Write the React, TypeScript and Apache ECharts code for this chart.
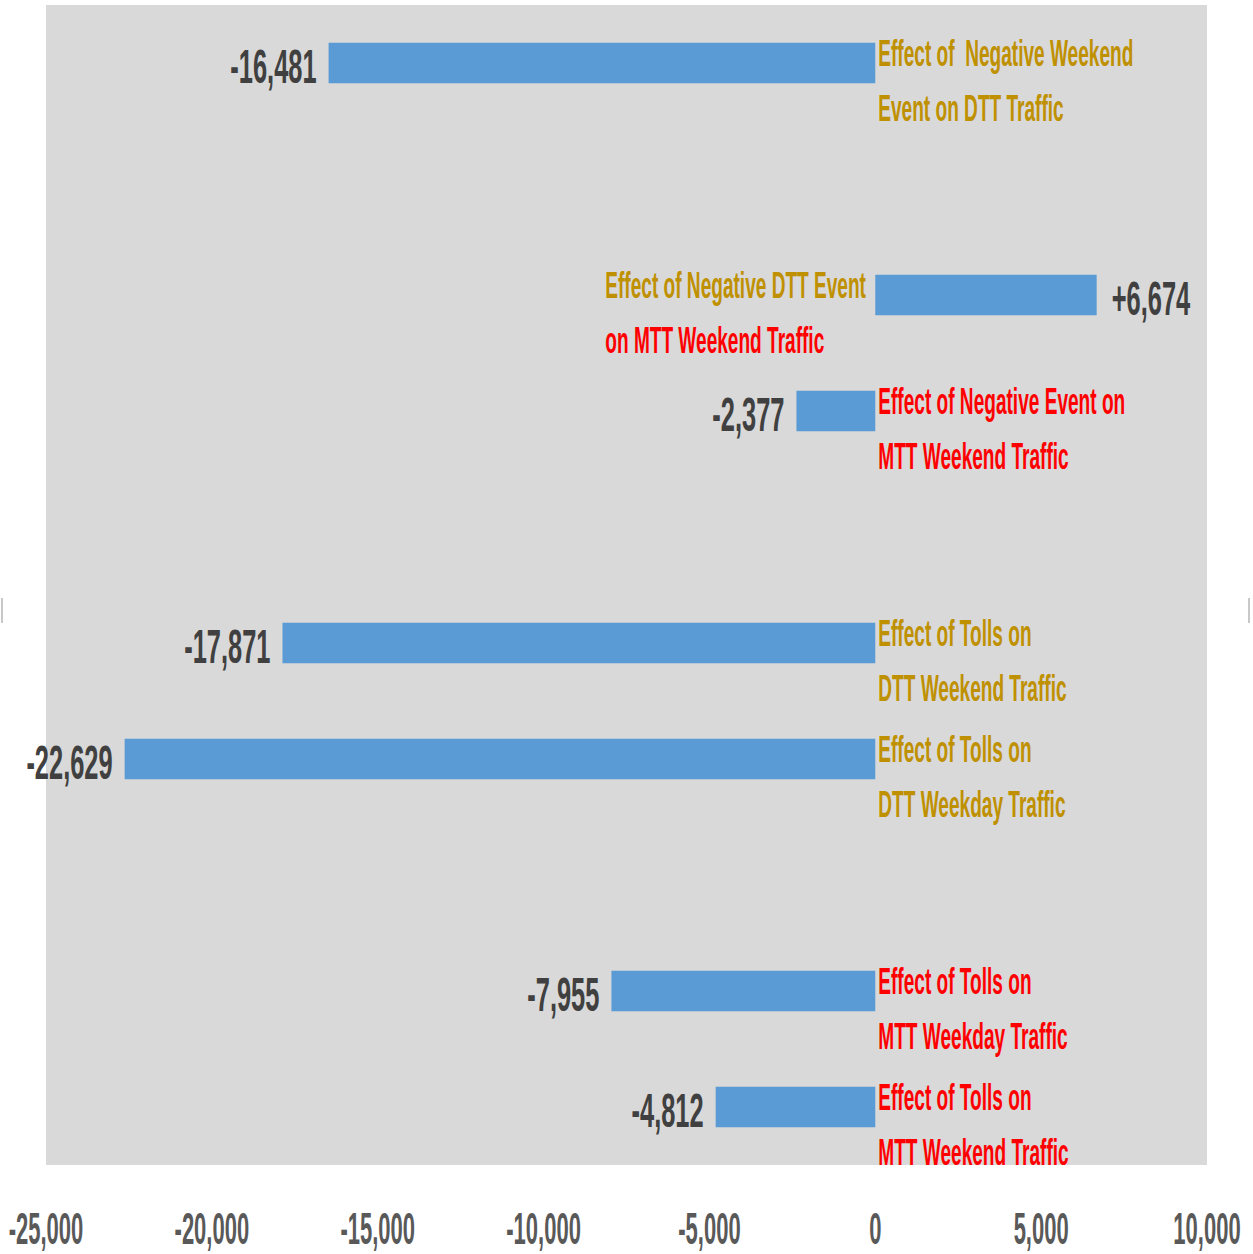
import React, { useEffect, useRef } from "react";
import * as echarts from "echarts";

// Category slots (blank slots are gaps in the chart)
const categories = [
  "Negative Weekend Event on DTT",
  "",
  "Negative DTT Event on MTT Weekend",
  "Negative Event on MTT Weekend",
  "",
  "Tolls on DTT Weekend",
  "Tolls on DTT Weekday",
  "",
  "Tolls on MTT Weekday",
  "Tolls on MTT Weekend",
];
const values: (number | null)[] = [-16481, null, 6674, -2377, null, -17871, -22629, null, -7955, -4812];

const noteLine1 = [
  "Effect of  Negative Weekend", "", "Effect of Negative DTT Event", "Effect of Negative Event on", "",
  "Effect of Tolls on", "Effect of Tolls on", "", "Effect of Tolls on", "Effect of Tolls on",
];
const noteLine2 = [
  "Event on DTT Traffic", "", "on MTT Weekend Traffic", "MTT Weekend Traffic", "",
  "DTT Weekend Traffic", "DTT Weekday Traffic", "", "MTT Weekday Traffic", "MTT Weekend Traffic",
];
const noteColor1 = ["gold", "", "gold", "red", "", "gold", "gold", "", "red", "red"];
const noteColor2 = ["gold", "", "red", "red", "", "gold", "gold", "", "red", "red"];
const noteSide = ["right", "", "left", "right", "", "right", "right", "", "right", "right"];

const xMin = -25000;
const xMax = 10000;
const xStep = 5000;
const xTickLabels = [-25000, -20000, -15000, -10000, -5000, 0, 5000, 10000];

const COLORS: Record<string, string> = { gold: "#BF9000", red: "#FF0000" };

const fmt = (v: number) => (v > 0 ? "+" : "") + v.toLocaleString("en-US");

export default function App() {
  const ref = useRef<HTMLDivElement>(null);
  useEffect(() => {
    if (!ref.current) return;
    const chart = echarts.init(ref.current, undefined, { renderer: "svg" });
    const labelData = values
      .map((v, i) => (v === null ? null : [v, i]))
      .filter((d) => d !== null);
    const noteData = noteLine1
      .map((t, i) => (t ? [0, i] : null))
      .filter((d) => d !== null);
    const lastCat = categories.length - 1;

    chart.setOption({
      animation: false,
      backgroundColor: "#FFFFFF",
      grid: {
        left: 46,
        right: 46,
        top: 5,
        bottom: 89,
        containLabel: false,
        outerBoundsMode: "none",
        show: true,
        backgroundColor: "#D9D9D9",
        borderWidth: 0,
      },
      xAxis: {
        type: "value",
        min: xMin,
        max: xMax,
        interval: xStep,
        axisLine: { show: false },
        axisTick: { show: false },
        splitLine: { show: false },
        axisLabel: { show: false },
      },
      yAxis: {
        type: "category",
        inverse: true,
        data: categories,
        axisLine: { show: false },
        axisTick: { show: false },
        axisLabel: { show: false },
        splitLine: { show: false },
      },
      series: [
        {
          type: "bar",
          data: values.map((v) => (v === null ? "-" : v)),
          barWidth: "35%",
          itemStyle: { color: "#5B9BD5" },
        },
        {
          // value labels
          type: "custom",
          silent: true,
          encode: { x: 0, y: 1 },
          data: labelData,
          z: 5,
          renderItem: (params: any, api: any) => {
            const v = api.value(0);
            const c = api.value(1);
            const p = api.coord([v, c]);
            const neg = v < 0;
            return {
              type: "text",
              x: p[0] + (neg ? -12 : 15),
              y: p[1] + 3,
              scaleX: 0.53,
              style: {
                text: fmt(v),
                fill: "#404040",
                fontSize: 48,
                fontWeight: "bold",
                fontFamily: "'Liberation Sans', Arial, sans-serif",
                align: neg ? "right" : "left",
                verticalAlign: "middle",
              },
            };
          },
        },
        {
          // annotations
          type: "custom",
          silent: true,
          encode: { x: 0, y: 1 },
          data: noteData,
          z: 5,
          renderItem: (params: any, api: any) => {
            const c = api.value(1);
            const p = api.coord([0, c]);
            const left = noteSide[c] === "left";
            const x0 = p[0] + (left ? -270 : 3);
            const mk = (text: string, color: string, dy: number) => ({
              type: "text",
              x: x0,
              y: p[1] + dy,
              scaleX: 0.53,
              style: {
                text,
                fill: COLORS[color],
                fontSize: 36,
                fontWeight: "bold",
                fontFamily: "'Liberation Sans', Arial, sans-serif",
                align: "left",
                verticalAlign: "middle",
              },
            });
            return {
              type: "group",
              children: [
                mk(noteLine1[c], noteColor1[c], -9),
                mk(noteLine2[c], noteColor2[c], 46),
              ],
            };
          },
        },
        {
          // x-axis tick labels
          type: "custom",
          silent: true,
          encode: { x: 0, y: 1 },
          data: xTickLabels.map((t) => [t, lastCat]),
          z: 5,
          renderItem: (params: any, api: any) => {
            const t = api.value(0);
            const p = api.coord([t, lastCat]);
            const cs = params.coordSys;
            return {
              type: "text",
              x: p[0],
              y: cs.y + cs.height + 64,
              scaleX: 0.5,
              style: {
                text: t.toLocaleString("en-US"),
                fill: "#595959",
                fontSize: 44,
                fontWeight: "bold",
                fontFamily: "'Liberation Sans', Arial, sans-serif",
                align: "center",
                verticalAlign: "middle",
              },
            };
          },
        },
      ],
      graphic: [
        { type: "line", shape: { x1: 2, y1: 598, x2: 2, y2: 623 }, style: { stroke: "#C8C8C8", lineWidth: 2 } },
        { type: "line", shape: { x1: 1249, y1: 598, x2: 1249, y2: 623 }, style: { stroke: "#C8C8C8", lineWidth: 2 } },
      ],
    });
    return () => chart.dispose();
  }, []);
  return (
    <div
      ref={ref}
      style={{ position: "fixed", left: 0, top: 0, width: 1253, height: 1254 }}
    />
  );
}
